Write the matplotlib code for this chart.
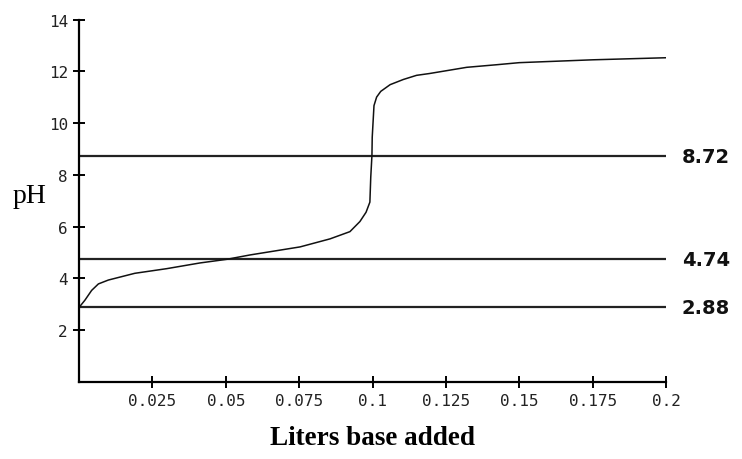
import matplotlib
matplotlib.use("Agg")
import matplotlib.pyplot as plt

# titration curve
liters = [0.0, 0.002, 0.0043, 0.0066, 0.010, 0.0145, 0.019, 0.0299, 0.0412,
          0.0503, 0.0583, 0.0753, 0.0855, 0.0923, 0.0957, 0.0978, 0.0991,
          0.0994, 0.0998, 0.0999, 0.1005, 0.1014, 0.1028, 0.106, 0.1105,
          0.115, 0.1194, 0.1321, 0.1423, 0.15, 0.175, 0.2]
ph = [2.88, 3.16, 3.54, 3.79, 3.94, 4.07, 4.20, 4.38, 4.60,
      4.74, 4.91, 5.22, 5.53, 5.81, 6.20, 6.56, 6.95,
      7.92, 8.75, 9.46, 10.68, 11.01, 11.23, 11.49, 11.69,
      11.85, 11.92, 12.16, 12.26, 12.34, 12.45, 12.53]

ref_levels = [8.72, 4.74, 2.88]
ref_labels = ["8.72", "4.74", "2.88"]

xticks = [0.025, 0.05, 0.075, 0.1, 0.125, 0.15, 0.175, 0.2]
xticklabels = ["0.025", "0.05", "0.075", "0.1", "0.125", "0.15", "0.175", "0.2"]
yticks = [2, 4, 6, 8, 10, 12, 14]

fig = plt.figure(figsize=(7.42, 4.6), dpi=100)
ax = fig.add_axes([0.1065, 0.1674, 0.7911, 0.7876])

for lvl, lab in zip(ref_levels, ref_labels):
    ax.axhline(lvl, color="#222222", lw=1.6)
    ax.text(1.027, lvl, lab, transform=ax.get_yaxis_transform(),
            ha="left", va="center", fontsize=14, fontweight="bold",
            family="DejaVu Sans", color="#111111")

ax.plot(liters, ph, color="#111111", lw=1.1)

ax.set_xlim(0, 0.2)
ax.set_ylim(0, 14)
ax.set_xticks(xticks)
ax.set_xticklabels(xticklabels)
ax.set_yticks(yticks)
for lbl in ax.get_xticklabels() + ax.get_yticklabels():
    lbl.set_family("DejaVu Sans Mono")
    lbl.set_fontsize(11.5)
    lbl.set_color("#222222")

ax.spines["top"].set_visible(False)
ax.spines["right"].set_visible(False)
ax.spines["left"].set_linewidth(1.6)
ax.spines["bottom"].set_linewidth(1.6)
ax.tick_params(direction="inout", length=8, width=1.4, pad=4)

ax.set_xlabel("Liters base added", family="Liberation Serif", fontsize=19.5,
              fontweight="bold", labelpad=12)
fig.text(0.04, 0.572, "pH", family="Liberation Serif", fontsize=20,
         ha="center", va="center")

fig.savefig("out.png", dpi=100)
